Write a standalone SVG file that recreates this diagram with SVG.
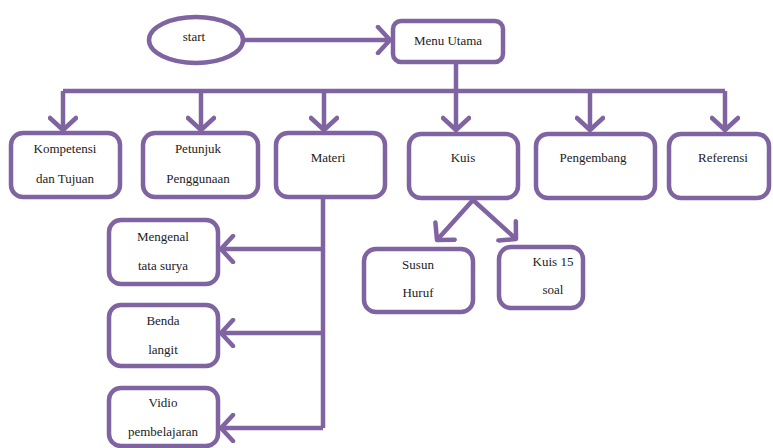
<svg xmlns="http://www.w3.org/2000/svg" width="773" height="448" viewBox="0 0 773 448">
<style>
.box{fill:#fff;stroke:#8064a2;stroke-width:4.5}
.ln{fill:none;stroke:#8064a2;stroke-width:4.5}
.t{font-family:'Liberation Serif','DejaVu Serif','Times New Roman',serif;font-size:13px;fill:#222;text-anchor:middle}
</style>
<defs>
<marker id="ah" markerUnits="userSpaceOnUse" markerWidth="30" markerHeight="30" refX="15" refY="15" orient="auto" viewBox="0 0 30 30">
<path d="M3,2 L15,15 L3,28" fill="none" stroke="#8064a2" stroke-width="4.5" stroke-linecap="round" stroke-linejoin="round"/>
</marker>
</defs>
<g id="connectors">
<path class="ln" d="M245,40 H390" marker-end="url(#ah)"/>
<path class="ln" d="M456,62 V91"/>
<path class="ln" d="M63,91 H725"/>
<path class="ln" d="M63,91 V130" marker-end="url(#ah)"/>
<path class="ln" d="M201,91 V130" marker-end="url(#ah)"/>
<path class="ln" d="M324,91 V130" marker-end="url(#ah)"/>
<path class="ln" d="M456,91 V130" marker-end="url(#ah)"/>
<path class="ln" d="M590,91 V130" marker-end="url(#ah)"/>
<path class="ln" d="M725,91 V130" marker-end="url(#ah)"/>
<path class="ln" d="M323,198 V428"/>
<path class="ln" d="M323,249 H221" marker-end="url(#ah)"/>
<path class="ln" d="M323,333 H221" marker-end="url(#ah)"/>
<path class="ln" d="M323,428 H221" marker-end="url(#ah)"/>
<path class="ln" d="M473,200 L437,240" marker-end="url(#ah)"/>
<path class="ln" d="M473,200 L516,239" marker-end="url(#ah)"/>
</g>
<g id="start"><ellipse class="box" cx="196" cy="40" rx="47" ry="23"/><text class="t" x="194" y="41" font-size="12">start</text></g>
<g id="menu"><rect class="box" x="393" y="21" width="110" height="41" rx="8"/><text class="t" x="448" y="45">Menu Utama</text></g>
<g id="kompetensi"><rect class="box" x="11" y="133" width="109" height="64" rx="12"/><text class="t" x="65" y="153">Kompetensi</text><text class="t" x="65" y="183">dan Tujuan</text></g>
<g id="petunjuk"><rect class="box" x="143" y="133" width="115" height="64" rx="12"/><text class="t" x="198" y="153">Petunjuk</text><text class="t" x="198" y="183">Penggunaan</text></g>
<g id="materi"><rect class="box" x="276" y="133" width="109" height="64" rx="12"/><text class="t" x="328" y="162">Materi</text></g>
<g id="kuis"><rect class="box" x="409" y="134" width="109" height="64" rx="12"/><text class="t" x="463" y="162">Kuis</text></g>
<g id="pengembang"><rect class="box" x="536" y="134" width="119" height="64" rx="12"/><text class="t" x="593" y="162">Pengembang</text></g>
<g id="referensi"><rect class="box" x="669" y="134" width="100" height="64" rx="12"/><text class="t" x="723" y="162">Referensi</text></g>
<g id="mengenal"><rect class="box" x="109" y="220" width="109" height="64" rx="12"/><text class="t" x="163" y="241">Mengenal</text><text class="t" x="163" y="270">tata surya</text></g>
<g id="benda"><rect class="box" x="109" y="305" width="109" height="61" rx="12"/><text class="t" x="163" y="325">Benda</text><text class="t" x="163" y="354">langit</text></g>
<g id="vidio"><rect class="box" x="109" y="388" width="109" height="58" rx="12"/><text class="t" x="163" y="407">Vidio</text><text class="t" x="163" y="436">pembelajaran</text></g>
<g id="susun"><rect class="box" x="364" y="249" width="109" height="63" rx="12"/><text class="t" x="418" y="269">Susun</text><text class="t" x="418" y="297">Huruf</text></g>
<g id="kuis15"><rect class="box" x="499" y="247" width="84" height="61" rx="12"/><text class="t" x="553" y="266">Kuis 15</text><text class="t" x="553" y="294">soal</text></g>
</svg>
